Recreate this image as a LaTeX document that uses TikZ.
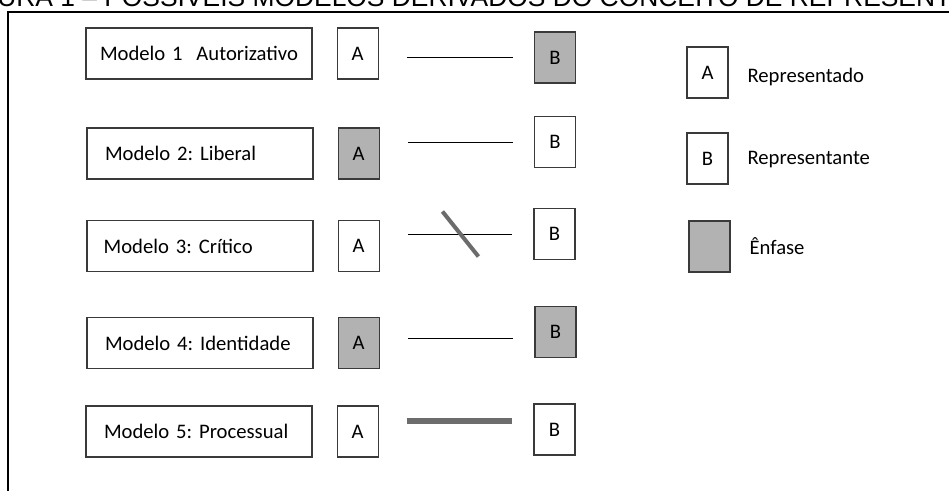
\documentclass[tikz,border=0pt]{standalone}
\usepackage{fontspec}
\setmainfont{Carlito}
\newfontfamily\titlefont{Liberation Sans}
\usepackage{xcolor}
\definecolor{shade}{RGB}{178,178,178}
\definecolor{edge}{RGB}{58,58,58}
\definecolor{slate}{RGB}{108,108,108}
\usepackage{tikz}
\usetikzlibrary{positioning}
\tikzset{
  heading/.style={font=\titlefont\fontsize{19.8}{22}\selectfont, inner sep=0pt},
  frame/.style={draw=black, line width=1.2pt},
  model/.style={draw=edge, line width=0.9pt, minimum height=38.25pt,
                inner xsep=10.5pt, text width=148.5pt, align=left,
                font=\fontsize{15.5}{18}\selectfont},
  letter/.style={draw=edge, line width=0.9pt, fill=white, inner sep=0pt,
                 minimum width=30.75pt, minimum height=38.25pt,
                 font=\fontsize{15.5}{18}\selectfont},
  emph/.style={letter, fill=shade},
  legendtext/.style={inner sep=0pt, anchor=west, font=\fontsize{15.5}{18}\selectfont},
  link/.style={draw=black, line width=0.6pt, shorten <=21pt, shorten >=15.75pt},
  cutmark/.style={draw=slate, line width=3pt},
  boldlink/.style={link, draw=slate, line width=4.5pt},
}

\begin{document}
\frenchspacing
\begin{tikzpicture}[x=0.75pt,y=-0.75pt]
\useasboundingbox (0,0) rectangle (949,490);
\clip (0,0) rectangle (949,490);

% caption, cut off at the top edge
\node[heading, anchor=base west] (title) at (-3,6.5)
  {URA 1 – POSSÍVEIS MODELOS DERIVADOS DO CONCEITO DE REPRESENT};
\draw[frame] (8,492) -- (8,12) -- (951,12);

% models
\node[model] (m1) at (199,53.5) {Modelo 1~ Autorizativo};
\node[model] (m2) at (200,153.5) {\hspace{3pt}Modelo 2: Liberal};
\node[model] (m3) at (200,246) {\hspace{2pt}Modelo 3: Crítico};
\node[model] (m4) at (200,343) {\hspace{3pt}Modelo 4: Identidade};
\node[model] (m5) at (199,431.5) {\hspace{3pt}Modelo 5: Processual};

% represented (A)
\node[letter, right=18pt of m1] (a1) {A};
\node[emph, right=18pt of m2] (a2) {A};
\node[letter, right=18pt of m3] (a3) {A};
\node[emph, right=18pt of m4] (a4) {A};
\node[letter, right=18pt of m5] (a5) {A};

% representatives (B)
\node[emph] (b1) at (555,57.5) {B};
\node[letter] (b2) at (555,142) {B};
\node[letter] (b3) at (554.5,234) {B};
\node[emph] (b4) at (555.5,332) {B};
\node[letter] (b5) at (554.5,429.5) {B};

% relations
\draw[link] (a1.east |- b1.west) -- (b1.west);
\draw[link] (a2.east |- b2.west) -- (b2.west);
\draw[link] (a3.east |- b3.west) -- node[coordinate, pos=0.525] (cut) {} (b3.west);
\draw[cutmark] (cut) +(-18,-22.5) -- +(18,22.5);
\draw[link] ([yshift=-4.5pt]a4.east |- b4.west) -- ([yshift=-4.5pt]b4.west);
\draw[boldlink] ([yshift=6.4pt]a5.east |- b5.west) -- ([yshift=6.4pt]b5.west);

% legend
\node[letter] (la) at (707.5,72.5) {A};
\node[letter] (lb) at (707.5,158.5) {B};
\node[emph] (le) at (709.5,246.5) {};
\node[legendtext, right=14pt of la, yshift=-3pt] (ta) {Representado};
\node[legendtext, right=14pt of lb, yshift=-1pt] (tb) {Representante};
\node[legendtext, right=14pt of le] (te) {Ênfase};
\end{tikzpicture}
\end{document}
